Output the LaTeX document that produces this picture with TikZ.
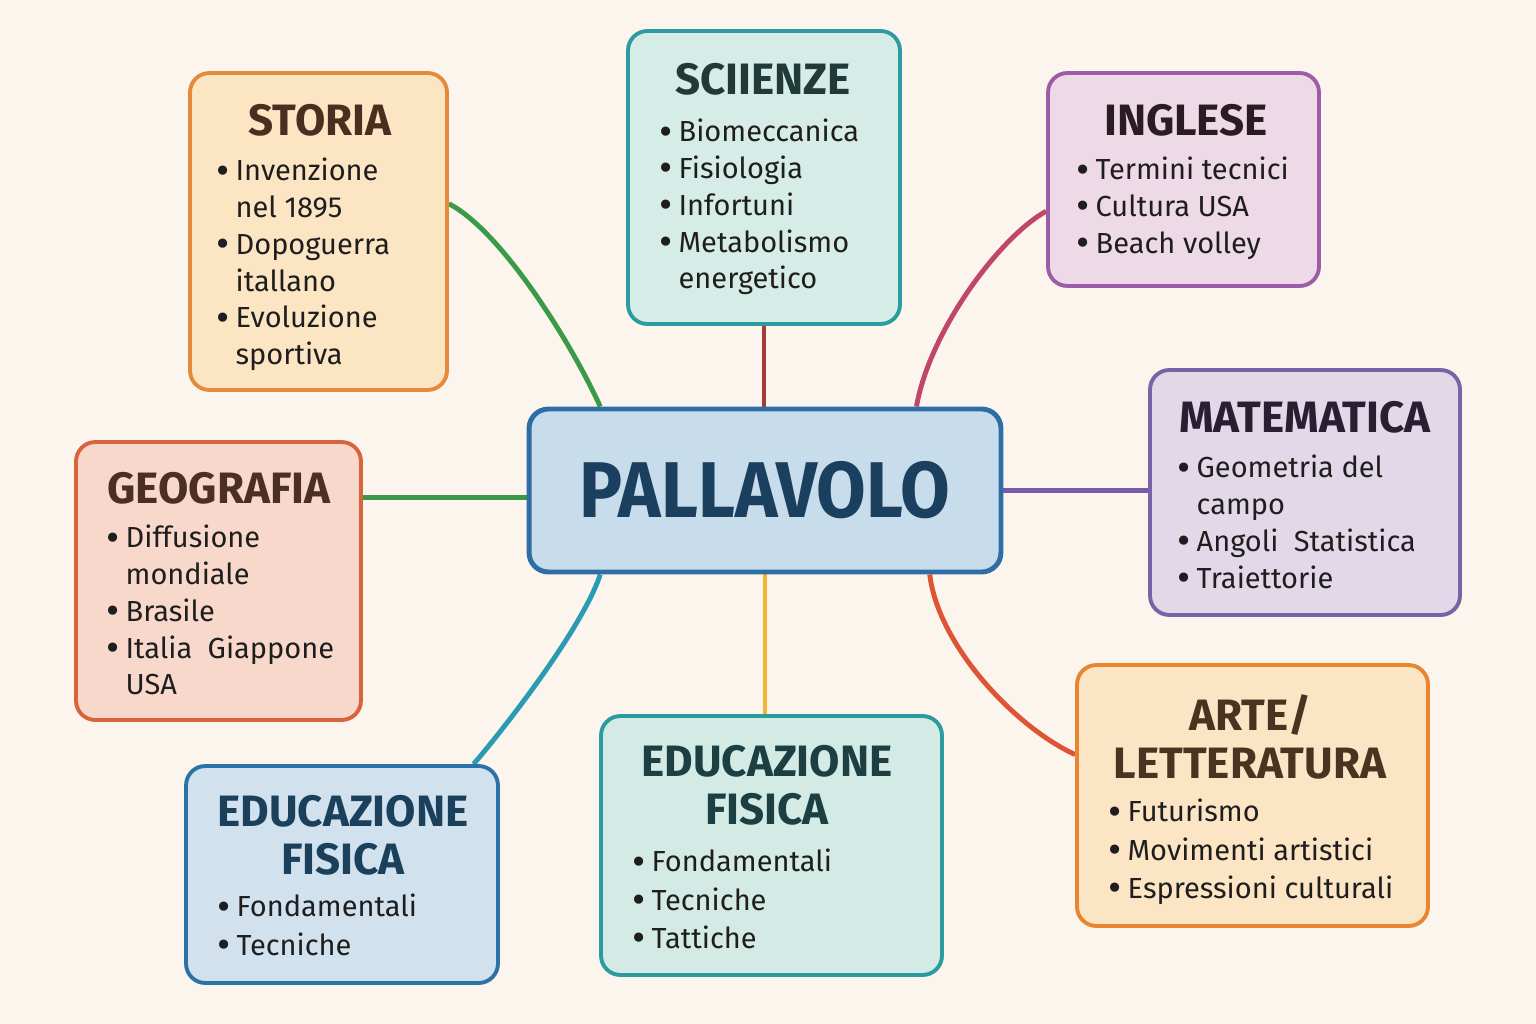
\documentclass[tikz,border=0pt]{standalone}
\usepackage{fontspec}
\setmainfont{Fira Sans}
\usetikzlibrary{backgrounds}

\definecolor{paper}{HTML}{FBF5EE}
\definecolor{ink}{HTML}{1F1E1E}
\definecolor{mainfill}{HTML}{C8DDEC}
\definecolor{mainline}{HTML}{2F6EA5}
\definecolor{maintext}{HTML}{1B3F5E}
\definecolor{storiafill}{HTML}{FCE5C3}
\definecolor{storialine}{HTML}{E38A3B}
\definecolor{storiatext}{HTML}{4B2E1F}
\definecolor{scienzefill}{HTML}{D6ECE6}
\definecolor{scienzeline}{HTML}{2D9CA0}
\definecolor{scienzetext}{HTML}{1F3A38}
\definecolor{inglesefill}{HTML}{EEDAE6}
\definecolor{ingleseline}{HTML}{9D5CA6}
\definecolor{inglesetext}{HTML}{2B1B24}
\definecolor{geofill}{HTML}{F8D8CA}
\definecolor{geoline}{HTML}{D8643F}
\definecolor{geotext}{HTML}{4B2E24}
\definecolor{matefill}{HTML}{E2D8E8}
\definecolor{mateline}{HTML}{7A62A6}
\definecolor{matetext}{HTML}{2A1F30}
\definecolor{artefill}{HTML}{FCE5C5}
\definecolor{arteline}{HTML}{E8852E}
\definecolor{artetext}{HTML}{4B3221}
\definecolor{eduAfill}{HTML}{D1E2EE}
\definecolor{eduAline}{HTML}{2B72A6}
\definecolor{eduAtext}{HTML}{1B405C}
\definecolor{eduBfill}{HTML}{D4EAE4}
\definecolor{eduBline}{HTML}{2A9CA0}
\definecolor{eduBtext}{HTML}{1B3F42}
\definecolor{storialink}{HTML}{3B9A48}
\definecolor{scienzelink}{HTML}{A63B3B}
\definecolor{ingleselink}{HTML}{C0466A}
\definecolor{geolink}{HTML}{3B9A48}
\definecolor{matelink}{HTML}{7B5BA8}
\definecolor{artelink}{HTML}{DE5536}
\definecolor{eduAlink}{HTML}{2A9BB3}
\definecolor{eduBlink}{HTML}{F2B233}

\newcommand\titlefont{\fontsize{25}{27.3}\selectfont\bfseries}
\newcommand\itemfont{\fontsize{16.5}{20.9}\selectfont}
\newcommand\bt{\makebox[11pt][l]{\raisebox{-1.8pt}{\scalebox{1.4}{•}}}}
\newcommand\nx{\hspace*{11pt}}

\tikzset{
  topic/.style={rounded corners=11pt, line width=2.2pt, inner sep=0pt},
  title/.style={font=\titlefont, align=center, anchor=north, inner sep=0pt},
  items/.style={font=\itemfont, align=left, anchor=north west, inner sep=0pt, text=ink},
  link/.style={line width=2.8pt},
}

\begin{document}
\begin{tikzpicture}[x=0.02cm, y=-0.02cm]
    \useasboundingbox (0,0) rectangle (1536,1024);

    % centre
    \node[topic, draw=mainline, fill=mainfill, line width=2.8pt,
          minimum width=9.44cm, minimum height=3.26cm, text=maintext,
          font=\fontsize{45}{45}\selectfont\bfseries] (pallavolo) at (765,490.5)
          {\scalebox{0.91}[1]{PALLAVOLO}};

    % storia
    \node[topic, draw=storialine, fill=storiafill, minimum width=5.14cm, minimum height=6.34cm] (storia) at (318.5,231.5) {};
    \node[title, text=storiatext] (storiatitle) at (320,104) {STORIA};
    \node[items] (storialist) at (216,158)
        {\bt Invenzione\\\nx nel 1895\\\bt Dopoguerra\\\nx itallano\\\bt Evoluzione\\\nx sportiva};

    % scienze
    \node[topic, draw=scienzeline, fill=scienzefill, minimum width=5.44cm, minimum height=5.86cm] (scienze) at (764,177.5) {};
    \node[title, text=scienzetext] (scienzetitle) at (763,63) {SCIIENZE};
    \node[items] (scienzelist) at (659,119)
        {\bt Biomeccanica\\\bt Fisiologia\\\bt Infortuni\\\bt Metabolismo\\\nx energetico};

    % inglese
    \node[topic, draw=ingleseline, fill=inglesefill, minimum width=5.42cm, minimum height=4.26cm] (inglese) at (1183.5,179.5) {};
    \node[title, text=inglesetext] (inglesetitle) at (1186,104) {INGLESE};
    \node[items] (ingleselist) at (1076,157)
        {\bt Termini tecnici\\\bt Cultura USA\\\bt Beach volley};

    % geografia
    \node[topic, draw=geoline, fill=geofill, minimum width=5.7cm, minimum height=5.56cm] (geografia) at (218.5,581) {};
    \node[title, text=geotext] (geotitle) at (219,472) {GEOGRAFIA};
    \node[items] (geolist) at (106,525)
        {\bt Diffusione\\\nx mondiale\\\bt Brasile\\\bt Italia\ \ Giappone\\\nx USA};

    % matematica
    \node[topic, draw=mateline, fill=matefill, minimum width=6.2cm, minimum height=4.9cm] (matematica) at (1305,492.5) {};
    \node[title, text=matetext] (matetitle) at (1305,401) {MATEMATICA};
    \node[items] (matelist) at (1177,455)
        {\bt Geometria del\\\nx campo\\\bt Angoli\ \ Statistica\\\bt Traiettorie};

    % arte
    \node[topic, draw=arteline, fill=artefill, minimum width=7.02cm, minimum height=5.22cm] (arte) at (1252.5,795.5) {};
    \node[title, text=artetext] (artetitle) at (1250,694) {ARTE/\\LETTERATURA};
    \node[items, font=\fontsize{16.5}{21.8}\selectfont] (artelist) at (1108,799)
        {\bt Futurismo\\\bt Movimenti artistici\\\bt Espressioni culturali};

    % educazione fisica (sinistra)
    \node[topic, draw=eduAline, fill=eduAfill, minimum width=6.24cm, minimum height=4.34cm] (eduA) at (342,874.5) {};
    \node[title, text=eduAtext] (eduAtitle) at (343,795) {EDUCAZIONE\\FISICA};
    \node[items, font=\fontsize{16.5}{21.8}\selectfont] (eduAlist) at (217,894)
        {\bt Fondamentali\\\bt Tecniche};

    % educazione fisica (centro)
    \node[topic, draw=eduBline, fill=eduBfill, minimum width=6.82cm, minimum height=5.18cm] (eduB) at (771.5,845.5) {};
    \node[title, text=eduBtext] (eduBtitle) at (767,745) {EDUCAZIONE\\FISICA};
    \node[items, font=\fontsize{16.5}{21.8}\selectfont] (eduBlist) at (632,849)
        {\bt Fondamentali\\\bt Tecniche\\\bt Tattiche};

    \begin{scope}[on background layer]
      \fill[paper] (0,0) rectangle (1536,1024);
      \draw[link, storialink] (storia.12) .. controls (500,230) and (570,340) .. (pallavolo.153);
      \draw[link, scienzelink] (scienze.south) -- (scienze.south |- pallavolo.north);
      \draw[link, ingleselink] (inglese.193) .. controls (1000,237) and (930,330) .. (pallavolo.29);
      \draw[link, geolink] (geografia.30.5) -- (geografia.30.5 -| pallavolo.west);
      \draw[link, matelink] (pallavolo.east) -- (pallavolo.east -| matematica.west);
      \draw[link, artelink] (pallavolo.-27.7) .. controls (938,645) and (1015,727) .. (arte.167);
      \draw[link, eduBlink] (pallavolo.south) -- (pallavolo.south |- eduB.north);
      \draw[link, eduAlink] (pallavolo.207) .. controls (583,627) and (507,725) .. (eduA.40.7);
    \end{scope}
\end{tikzpicture}
\end{document}
